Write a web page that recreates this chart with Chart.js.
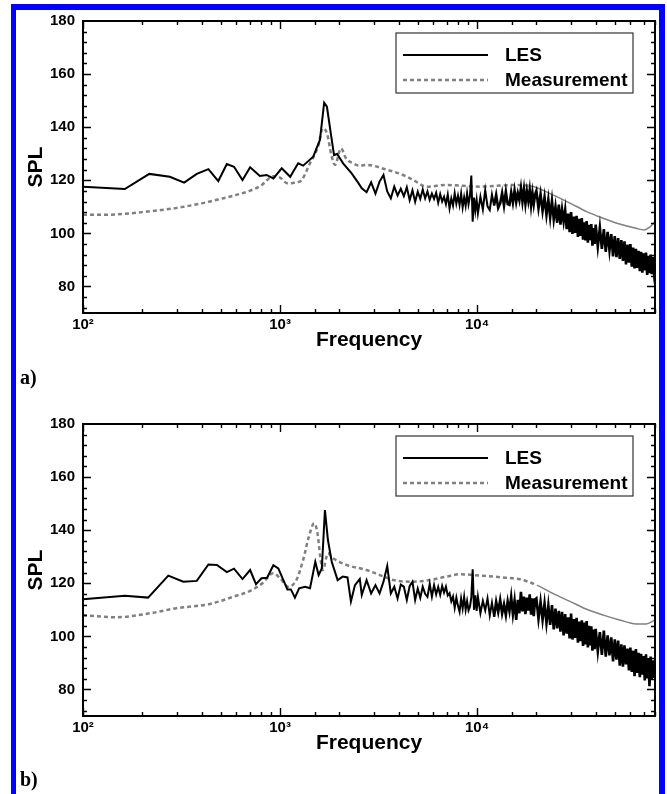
<!DOCTYPE html>
<html>
<head>
<meta charset="utf-8">
<script src="https://cdn.jsdelivr.net/npm/chart.js@4"></script>
<style>
    body { margin: 0; background: #fff; width: 667px; height: 794px; overflow: hidden; position: relative; }
    #frame { position: absolute; left: 11px; top: 4px; width: 654px; height: 800px; box-sizing: border-box;
             border: 6px solid #0000ff; border-left-width: 5px; border-bottom: none; }
    canvas { position: absolute; left: 0; }
    .tag { position: absolute; left: 20px; font: bold 20px "Liberation Serif", "Times New Roman", serif; color: #000; }
</style>
</head>
<body>
<div id="frame"></div>
<canvas id="chartA" width="667" height="400" style="top:0"></canvas>
<canvas id="chartB" width="667" height="391" style="top:403px"></canvas>
<div class="tag" style="top:366px">a)</div>
<div class="tag" style="top:768px">b)</div>
<script>
// tick labels on the log axis
const xTickLabels = { 100: "10²", 1000: "10³", 10000: "10⁴" };
const seriesNames = ["LES", "Measurement"];

// LES, panel a, below 2.5 kHz
const lesALowFreq = [100, 163, 217, 276, 326, 378, 433, 486, 537, 584, 645, 705, 790, 855, 925,
    1020, 1126, 1236, 1310, 1474, 1594, 1675, 1730, 1810, 1880, 1950, 2090, 2310, 2490];
const lesALowSpl = [117.6, 116.7, 122.4, 121.3, 119.1, 122.4, 124.2, 119.7, 126.1, 125.1, 120.1, 124.9, 121.6, 122.0, 120.7,
    124.5, 121.3, 126.4, 125.5, 128.9, 135.2, 149.2, 147.7, 137.7, 129.5, 129.9, 126.4, 122.6, 119.1];

// LES, panel b, below 2.5 kHz
const lesBLowFreq = [100, 163, 214, 271, 323, 378, 433, 478, 537, 584, 645, 705, 755, 805, 860, 925, 980, 1040,
    1090, 1135, 1190, 1250, 1340, 1420, 1510, 1570, 1630, 1690, 1750, 1830, 1960, 2080, 2200, 2290, 2400, 2540];
const lesBLowSpl = [114.0, 115.3, 114.6, 122.9, 120.6, 120.9, 127.1, 126.9, 124.2, 125.5, 121.6, 125.0, 119.7, 121.9, 122.1, 126.8, 125.6, 121.2,
    117.7, 117.7, 114.6, 118.1, 118.7, 118.1, 128.1, 123.1, 125.6, 147.6, 136.3, 128.1, 121.2, 122.5, 122.2, 113.1, 119.3, 121.6];

// noisy high-frequency part of the LES spectra (same bins for both panels)
const bandFreq = [
    2600, 2750, 2900, 3050, 3200, 3350, 3500, 3650, 3800, 3950,
    4100, 4250, 4400, 4550, 4700, 4850, 5000, 5150, 5300, 5450,
    5600, 5750, 5900, 6050, 6200, 6350, 6500, 6650, 6800, 6950,
    7100, 7250, 7400, 7550, 7700, 7850, 8000, 8150, 8300, 8450,
    8600, 8750, 8900, 9050, 9200, 9350, 9500, 9650, 9800, 9950,
    10100, 10400, 10700, 11000, 11300, 11600, 11900, 12200, 12500, 12800,
    13100, 13400, 13700, 14000, 14300, 14600, 14900, 15200, 15500, 15800,
    16100, 16400, 16700, 17000, 17300, 17600, 17900, 18200, 18500, 18800,
    19100, 19400, 19700,
    20000, 20500, 21000, 21500, 22000, 22500, 23000, 23500, 24000, 24500,
    25000, 25500, 26000, 26500, 27000, 27500, 28000, 28500, 29000, 29500,
    30000, 30500, 31000, 31500, 32000, 32500, 33000, 33500, 34000, 34500,
    35000, 35500, 36000, 36500, 37000, 37500, 38000, 38500, 39000, 39500,
    40000, 41000, 42000, 43000, 44000, 45000, 46000, 47000, 48000, 49000,
    50000, 51000, 52000, 53000, 54000, 55000, 56000, 57000, 58000, 59000,
    60000, 61000, 62000, 63000, 64000, 65000, 66000, 67000, 68000, 69000,
    70000, 71000, 72000, 73000, 74000, 75000, 76000, 77000, 78000, 79000,
    80000];

const lesABandSpl = [
    117.0, 115.5, 119.2, 115.0, 119.5, 122.0, 115.8, 113.2, 117.6, 114.3,
    116.8, 114.0, 117.4, 112.5, 116.2, 111.9, 115.7, 113.0, 116.5, 113.2,
    115.8, 112.6, 115.0, 113.0, 115.3, 111.5, 114.8, 112.0, 113.8, 111.0,
    114.6, 109.4, 113.2, 110.5, 115.1, 111.2, 114.2, 110.7, 115.0, 109.8,
    113.6, 110.4, 115.1, 111.0, 114.0, 121.8, 104.4, 113.5, 108.6, 112.6,
    107.6, 113.8, 109.0, 116.3, 110.2, 108.8, 114.6, 110.5, 114.5, 109.6,
    111.3, 115.2, 110.4, 115.7, 111.0, 110.7, 115.4, 111.6, 116.2, 111.8,
    115.1, 112.5, 117.0, 112.0, 116.6, 111.2, 115.8, 112.3, 116.3, 110.6,
    115.2, 111.0, 114.6,
    116.0, 109.5, 114.8, 108.4, 113.6, 107.0, 112.7, 106.0, 112.2, 105.3,
    110.0, 104.0, 110.8, 103.3, 109.0, 104.5, 108.8, 101.6, 107.4, 100.5,
    108.0, 99.8, 106.3, 100.2, 106.6, 98.7, 105.5, 99.0, 105.8, 97.6,
    104.2, 97.3, 104.6, 96.5, 103.2, 97.4, 103.5, 95.4, 102.0, 96.0,
    103.3, 95.0, 102.2, 94.2, 101.6, 93.0, 100.6, 93.6, 99.7, 91.3,
    99.0, 91.0, 98.2, 90.4, 97.5, 89.6, 97.0, 88.3, 95.8, 89.0,
    96.0, 87.5, 94.6, 86.8, 94.2, 87.0, 93.4, 85.8, 93.0, 85.2,
    92.5, 86.0, 92.8, 84.3, 91.5, 85.0, 92.0, 84.6, 91.2, 85.8,
    89.0];

const lesBBandSpl = [
    115.6, 121.2, 116.2, 119.3, 116.2, 120.6, 126.5, 116.2, 118.7, 114.3,
    119.5, 118.7, 113.7, 119.0, 120.6, 113.7, 118.0, 114.5, 118.7, 116.0,
    114.9, 119.8, 115.0, 119.3, 115.8, 118.6, 115.6, 119.0, 116.5, 118.7,
    115.4, 116.3, 113.2, 115.0, 110.8, 114.6, 111.5, 109.3, 114.2, 110.5,
    114.9, 110.0, 113.3, 109.8, 111.2, 114.6, 125.3, 110.0, 115.5, 109.6,
    114.9, 108.7, 113.4, 109.8, 114.3, 107.9, 112.7, 107.4, 113.0, 109.2,
    113.7, 108.6, 112.0, 108.0, 113.2, 109.5, 114.9, 108.4, 113.4, 106.2,
    113.8, 108.7, 116.8, 109.4, 115.0, 108.4, 114.6, 109.7, 115.8, 108.2,
    114.3, 107.6, 113.9,
    114.3, 106.6, 113.0, 106.2, 112.4, 105.0, 111.6, 104.3, 111.8, 102.6,
    110.5, 103.0, 109.6, 101.8, 109.2, 100.4, 108.4, 101.0, 107.2, 99.2,
    108.6, 98.8, 106.5, 99.4, 107.0, 97.6, 105.6, 98.2, 106.0, 96.4,
    105.2, 97.0, 105.8, 95.8, 104.0, 96.6, 103.8, 94.6, 102.6, 95.2,
    102.8, 94.4, 101.6, 93.0, 102.2, 92.4, 100.4, 92.8, 99.6, 90.6,
    98.9, 91.2, 98.4, 89.0, 97.0, 88.6, 96.6, 89.4, 95.4, 87.2,
    95.8, 86.6, 94.6, 85.0, 95.2, 86.2, 93.8, 84.6, 93.4, 85.6,
    92.6, 83.4, 93.2, 84.2, 91.8, 81.2, 92.4, 83.6, 91.0, 84.4,
    88.2];

// measurement, panel a
const measAFreq = [100, 130, 160, 200, 250, 300, 400, 500, 600, 700, 800, 925, 1000, 1085, 1260, 1420, 1560, 1650,
    1730, 1830, 1900, 2040, 2160, 2350, 2540, 2750, 3510, 4210, 4750, 5530, 6990, 10350, 15300, 18600, 24200,
    29800, 36000, 43700, 52900, 64100, 70600, 75000, 80000];
const measASpl = [107.0, 107.0, 107.3, 108.0, 108.8, 109.6, 111.3, 113.0, 114.5, 116.0, 118.0, 121.5, 121.0, 118.9, 119.5, 126.4, 132.7, 139.6,
    137.7, 128.9, 125.8, 132.0, 128.3, 126.4, 125.5, 125.8, 123.9, 122.0, 120.1, 117.6, 118.2, 117.6, 118.2, 117.9, 114.5,
    111.3, 108.2, 105.7, 103.5, 101.9, 101.3, 102.3, 104.4];

// measurement, panel b
const measBFreq = [100, 148, 219, 298, 441, 578, 705, 820, 925, 1000, 1100, 1210, 1310, 1400, 1490, 1550, 1600, 1650,
    1750, 1860, 2180, 2750, 3210, 3760, 4750, 5750, 6990, 8220, 10350, 13500, 16500, 20100, 24200, 29800, 36000,
    43700, 52900, 64100, 72000, 80000];
const measBSpl = [108.0, 107.2, 108.7, 110.6, 112.2, 114.9, 117.1, 120.2, 123.8, 121.9, 118.7, 121.2, 128.8, 137.5, 142.6, 138.8, 130.0, 125.0,
    131.3, 129.4, 126.9, 125.0, 123.1, 121.2, 120.6, 121.2, 122.5, 123.4, 122.9, 122.2, 121.5, 119.3, 116.2, 113.1, 110.2,
    108.0, 106.2, 104.7, 104.7, 106.2];

Chart.defaults.font.family = '"Liberation Sans", Arial, sans-serif';
Chart.defaults.color = "#000";

function toPoints(freqs, spls) {
    return freqs.map((f, i) => ({ x: f, y: spls[i] }));
}

// frame, inward ticks on all four sides, and the boxed legend
const frameTicks = {
    id: "frameTicks",
    afterDatasetsDraw(chart) {
        const { ctx, chartArea: a, scales: { x, y } } = chart;
        ctx.save();
        ctx.strokeStyle = "#000";
        ctx.lineWidth = 1.4;
        ctx.beginPath();
        x.ticks.forEach(t => {
            const px = Math.round(x.getPixelForValue(t.value)) + 0.5;
            const len = xTickLabels[t.value] ? 8 : 4;
            ctx.moveTo(px, a.bottom); ctx.lineTo(px, a.bottom - len);
            ctx.moveTo(px, a.top); ctx.lineTo(px, a.top + len);
        });
        for (let v = 72; v < 180; v += 4) {
            const py = Math.round(y.getPixelForValue(v)) + 0.5;
            const len = v % 20 === 0 ? 8 : 4;
            ctx.moveTo(a.left, py); ctx.lineTo(a.left + len, py);
            ctx.moveTo(a.right, py); ctx.lineTo(a.right - len, py);
        }
        ctx.stroke();
        ctx.lineWidth = 2;
        ctx.strokeRect(a.left, a.top, a.right - a.left, a.bottom - a.top);

        const bx = a.left + 313, by = a.top + 12;
        ctx.fillStyle = "#fff";
        ctx.fillRect(bx, by, 237, 60);
        ctx.strokeStyle = "#333";
        ctx.lineWidth = 1.2;
        ctx.strokeRect(bx, by, 237, 60);
        chart.data.datasets.forEach((ds, i) => {
            const ly = by + 22 + i * 25;
            ctx.strokeStyle = ds.borderColor;
            ctx.lineWidth = ds.borderWidth;
            ctx.setLineDash(ds.borderDash || []);
            ctx.beginPath();
            ctx.moveTo(bx + 7, ly);
            ctx.lineTo(bx + 92, ly);
            ctx.stroke();
            ctx.setLineDash([]);
            ctx.fillStyle = "#000";
            ctx.font = 'bold 19px "Liberation Sans", Arial, sans-serif';
            ctx.textBaseline = "middle";
            ctx.fillText(ds.label, bx + 109, ly + 1);
        });
        ctx.restore();
    }
};

function makeChart(id, lesFreq, lesSpl, measFreq, measSpl, padBottom) {
    return new Chart(document.getElementById(id), {
        type: "line",
        data: {
            datasets: [
                {
                    label: seriesNames[0],
                    data: toPoints(lesFreq, lesSpl),
                    borderColor: "#000",
                    borderWidth: 2,
                    pointRadius: 0,
                    tension: 0,
                    segment: {
                        // the dense high-frequency bins read as a heavy band
                        borderWidth: c => c.p0.parsed.x > 12000 ? 2.6 : 2
                    }
                },
                {
                    label: seriesNames[1],
                    data: toPoints(measFreq, measSpl),
                    borderColor: "#808080",
                    borderWidth: 2.5,
                    borderDash: [4, 3],
                    pointRadius: 0,
                    cubicInterpolationMode: "monotone",
                    segment: {
                        borderDash: c => c.p0.parsed.x < 17000 ? [4, 3] : [],
                        borderWidth: c => c.p0.parsed.x < 17000 ? 2.5 : 1.5
                    }
                }
            ]
        },
        options: {
            responsive: false,
            devicePixelRatio: 1,
            animation: false,
            events: [],
            layout: { padding: { left: 24, right: 12, top: 21, bottom: padBottom } },
            plugins: { legend: { display: false }, tooltip: { enabled: false } },
            scales: {
                x: {
                    type: "logarithmic",
                    min: 100,
                    max: 80000,
                    grid: { display: false, drawTicks: false },
                    border: { display: false },
                    ticks: {
                        autoSkip: false,
                        maxRotation: 0,
                        padding: 3,
                        font: { size: 15, weight: "bold" },
                        callback: v => xTickLabels[v] || ""
                    },
                    title: { display: true, text: "Frequency", font: { size: 21, weight: "bold" }, padding: 0 },
                    afterFit: s => { s.height = 40; }
                },
                y: {
                    min: 70,
                    max: 180,
                    grid: { display: false, drawTicks: false },
                    border: { display: false },
                    ticks: { stepSize: 20, includeBounds: false, padding: 8, font: { size: 15, weight: "bold" } },
                    title: { display: true, text: "SPL", font: { size: 21, weight: "bold" }, padding: 0 },
                    afterFit: s => { s.width = 59; }
                }
            }
        },
        plugins: [frameTicks]
    });
}

makeChart("chartA", lesALowFreq.concat(bandFreq), lesALowSpl.concat(lesABandSpl), measAFreq, measASpl, 47);
makeChart("chartB", lesBLowFreq.concat(bandFreq), lesBLowSpl.concat(lesBBandSpl), measBFreq, measBSpl, 38);
</script>
</body>
</html>
